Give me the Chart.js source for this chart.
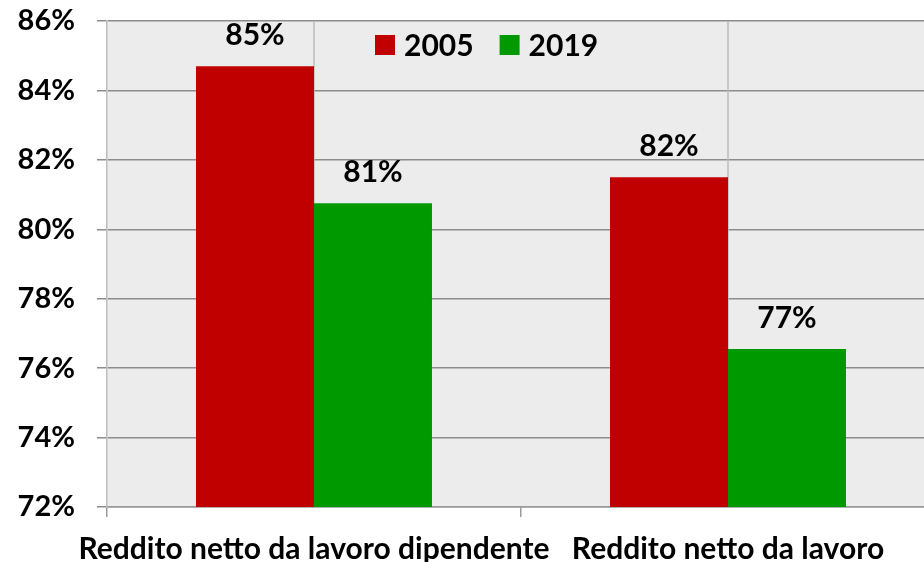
<!DOCTYPE html>
<html>
<head>
<meta charset="utf-8">
<script src="https://cdn.jsdelivr.net/npm/chart.js@4.4.0/dist/chart.umd.min.js"></script>
<style>
html, body { margin: 0; padding: 0; overflow: hidden; background: #fff; }
#wrap { width: 936px; height: 576px; }
</style>
</head>
<body>
<div id="wrap"><canvas id="myChart" width="936" height="576"></canvas></div>
<script>
// data
var categories = ["Reddito netto da lavoro dipendente", "Reddito netto da lavoro"];
var years = ["2005", "2019"];
var values2005 = [84.7, 81.5];
var values2019 = [80.75, 76.55];
var barColors = ["#c00000", "#009900"];

var fontName = "Lato, 'Open Sans', sans-serif";

// grey plot background
var plotBg = {
  id: "plotBg",
  beforeDraw: function (chart) {
    var a = chart.chartArea, ctx = chart.ctx;
    ctx.save();
    ctx.fillStyle = "#ececec";
    ctx.fillRect(a.left, a.top, a.right - a.left, a.bottom - a.top);
    ctx.restore();
  }
};

// vertical lines at the middle of each category
var centerLines = {
  id: "centerLines",
  beforeDatasetsDraw: function (chart) {
    var a = chart.chartArea, ctx = chart.ctx, x = chart.scales.x;
    ctx.save();
    ctx.strokeStyle = "#bdbdbd";
    ctx.lineWidth = 1.5;
    categories.forEach(function (c, i) {
      var px = x.getPixelForValue(i);
      ctx.beginPath();
      ctx.moveTo(px, a.top);
      ctx.lineTo(px, a.bottom);
      ctx.stroke();
    });
    ctx.restore();
  }
};

// value labels above bars
var valueLabels = {
  id: "valueLabels",
  afterDatasetsDraw: function (chart) {
    var ctx = chart.ctx;
    ctx.save();
    ctx.fillStyle = "#000";
    ctx.font = "bold 30px " + fontName;
    ctx.textAlign = "center";
    ctx.textBaseline = "bottom";
    chart.data.datasets.forEach(function (ds, di) {
      chart.getDatasetMeta(di).data.forEach(function (bar, i) {
        ctx.fillText(Math.round(ds.data[i]) + "%", bar.x, bar.y - 16);
      });
    });
    ctx.restore();
  }
};

// legend inside the plot area
var insideLegend = {
  id: "insideLegend",
  afterDraw: function (chart) {
    var a = chart.chartArea, ctx = chart.ctx;
    var x = a.left + 268, y = a.top + 14;
    ctx.save();
    ctx.font = "bold 30px " + fontName;
    ctx.textBaseline = "middle";
    ctx.textAlign = "left";
    chart.data.datasets.forEach(function (ds) {
      ctx.fillStyle = ds.backgroundColor;
      ctx.fillRect(x, y, 20, 20);
      ctx.fillStyle = "#000";
      ctx.fillText(ds.label, x + 29, y + 11);
      x += 29 + ctx.measureText(ds.label).width + 26;
    });
    ctx.restore();
  }
};

new Chart("myChart", {
  type: "bar",
  data: {
    labels: categories,
    datasets: [{
      label: years[0],
      data: values2005,
      backgroundColor: barColors[0]
    }, {
      label: years[1],
      data: values2019,
      backgroundColor: barColors[1]
    }]
  },
  options: {
    responsive: false,
    animation: false,
    layout: { padding: { left: 0, right: 1, top: 21, bottom: 0 } },
    plugins: {
      legend: { display: false },
      tooltip: { enabled: false }
    },
    datasets: {
      bar: { categoryPercentage: 0.57, barPercentage: 1 }
    },
    scales: {
      x: {
        afterFit: function (s) {
          s.paddingLeft = 0;
          s.paddingRight = 0;
          s.height = 69;
        },
        grid: {
          offset: true,
          drawOnChartArea: false,
          color: "#9a9a9a",
          lineWidth: 1.5,
          tickLength: 10
        },
        border: { color: "#9a9a9a", width: 1.5 },
        ticks: {
          color: "#000",
          font: { family: fontName, size: 30, weight: "bold" },
          autoSkip: false,
          maxRotation: 0,
          padding: 14
        }
      },
      y: {
        min: 72,
        max: 86,
        afterFit: function (s) {
          s.width = 107;
          s.paddingTop = 0;
          s.paddingBottom = 0;
        },
        grid: {
          color: "#8c8c8c",
          lineWidth: 1.5,
          tickLength: 10
        },
        border: { color: "#bdbdbd", width: 1.5 },
        ticks: {
          stepSize: 2,
          color: "#000",
          padding: 22,
          font: { family: fontName, size: 29, weight: "bold" },
          callback: function (v) { return v + "%"; }
        }
      }
    }
  },
  plugins: [plotBg, centerLines, valueLabels, insideLegend]
});
</script>
</body>
</html>
